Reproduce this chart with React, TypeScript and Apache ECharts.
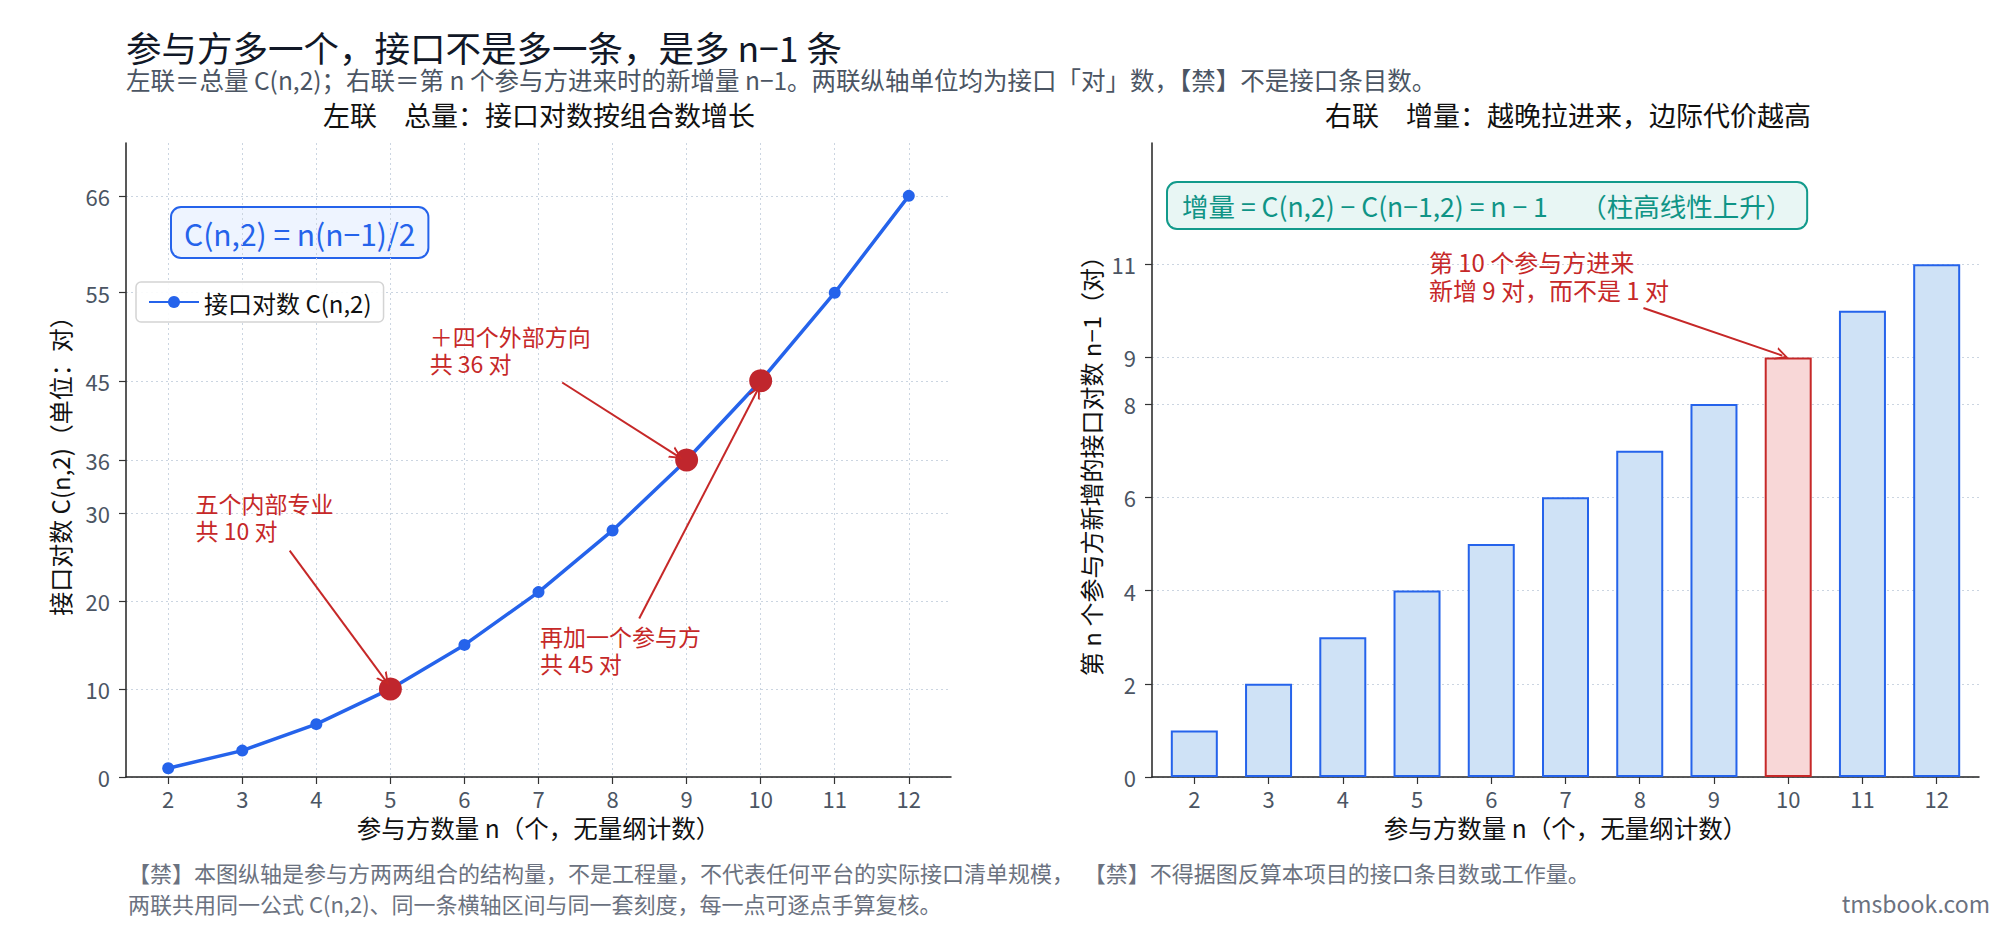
import { useEffect, useRef } from "react";
import * as echarts from "echarts";

// 参与方数量 n 与两联的数值
const participants = [2, 3, 4, 5, 6, 7, 8, 9, 10, 11, 12];
const pairCounts = [1, 3, 6, 10, 15, 21, 28, 36, 45, 55, 66];
const newPairs = [1, 2, 3, 4, 5, 6, 7, 8, 9, 10, 11];
const leftTicks = [0, 10, 20, 30, 36, 45, 55, 66];
const rightTicks = [0, 2, 4, 6, 8, 9, 11];
const markedN = [5, 9, 10];
const markedBarN = 10;

const FONT = '"Noto Sans CJK SC", "Noto Sans", sans-serif';
const BLUE = "#2563eb";
const RED = "#c62828";
const TEAL = "#0f9486";
const GRID_LINE = { color: "#cbd5e1", type: [2, 3], width: 1 };
const ARROW = "path://M0,10 L5,0 L10,10 L8.4,10 L5,3.2 L1.6,10 Z";

const xAxisOf = (gridIndex: number, split: boolean) => ({
  type: "value",
  gridIndex,
  min: 1.43,
  max: 12.57,
  name: "参与方数量 n（个，无量纲计数）",
  nameLocation: "middle",
  nameGap: 38,
  nameTextStyle: { fontSize: 24.5, color: "#111", fontFamily: FONT },
  axisLine: { show: true, onZero: false, lineStyle: { color: "#222", width: 1.5 } },
  axisTick: { show: true, length: 7, customValues: participants, lineStyle: { color: "#333", width: 1.2 } },
  axisLabel: { customValues: participants, fontSize: 22, color: "#4b5563", margin: 10, fontFamily: FONT },
  splitLine: { show: split, lineStyle: GRID_LINE },
});

const yAxisOf = (gridIndex: number, max: number, ticks: number[], name: string, gap: number) => ({
  type: "value",
  gridIndex,
  min: 0,
  max,
  name,
  nameLocation: "middle",
  nameGap: gap,
  nameTextStyle: { fontSize: 24, color: "#111", fontFamily: FONT },
  axisLine: { show: true, onZero: false, lineStyle: { color: "#222", width: 1.5 } },
  axisTick: { show: true, length: 7, customValues: ticks, lineStyle: { color: "#333", width: 1.2 } },
  axisLabel: { customValues: ticks, fontSize: 22, color: "#4b5563", margin: 16, fontFamily: FONT },
  splitLine: { show: true, lineStyle: GRID_LINE },
});

const arrowLines = (pairs: number[][][]) => ({
  silent: true,
  symbol: ["none", ARROW],
  symbolSize: 13,
  label: { show: false },
  emphasis: { disabled: true },
  lineStyle: { color: RED, width: 2, type: "solid", opacity: 1 },
  data: pairs.map(([a, b]) => [{ coord: a }, { coord: b }]),
});

const notes = (items: { at: number[]; text: string }[], size: number, lh: number) => ({
  silent: true,
  symbol: "circle",
  symbolSize: 0,
  label: {
    show: true,
    position: [0, 0],
    align: "left",
    verticalAlign: "top",
    color: RED,
    fontSize: size,
    lineHeight: lh,
    fontFamily: FONT,
  },
  data: items.map((it) => ({ coord: it.at, value: 0, label: { formatter: it.text } })),
});

const text = (x: number, y: number, t: string, size: number, fill: string, align = "left") => ({
  type: "text",
  x,
  y,
  silent: true,
  style: { text: t, fontSize: size, fontFamily: FONT, fill, align, verticalAlign: "middle" },
});

const App = () => {
  const chartRef = useRef<HTMLDivElement>(null);

  useEffect(() => {
    const chart = echarts.init(chartRef.current, null, { renderer: "svg" });

    const option = {
      animation: false,
      textStyle: { fontFamily: FONT },
      grid: [
        { left: 126, top: 143, width: 825, height: 634, outerBoundsMode: "none" },
        { left: 1152, top: 143, width: 827, height: 634, outerBoundsMode: "none" },
      ],
      xAxis: [xAxisOf(0, true), xAxisOf(1, false)],
      yAxis: [
        yAxisOf(0, 72, leftTicks, "接口对数 C(n,2)（单位：对）", 55),
        yAxisOf(1, 13.6, rightTicks, "第 n 个参与方新增的接口对数 n−1（对）", 50),
      ],
      legend: {
        left: 136,
        top: 282,
        data: ["接口对数 C(n,2)"],
        padding: [8, 12],
        itemWidth: 50,
        itemHeight: 15,
        textStyle: { fontSize: 24, color: "#111", fontFamily: FONT },
        borderColor: "#d4d4d4",
        borderWidth: 1.5,
        borderRadius: 5,
        backgroundColor: "rgba(255,255,255,0.9)",
      },
      series: [
        {
          name: "接口对数 C(n,2)",
          type: "line",
          xAxisIndex: 0,
          yAxisIndex: 0,
          data: participants.map((n, i) => [n, pairCounts[i]]),
          symbol: "circle",
          symbolSize: 12,
          showAllSymbol: true,
          lineStyle: { color: BLUE, width: 3.5 },
          itemStyle: { color: BLUE },
          z: 3,
        },
        {
          name: "关键点",
          type: "scatter",
          xAxisIndex: 0,
          yAxisIndex: 0,
          data: participants
            .map((n, i) => [n, pairCounts[i]])
            .filter(([n]) => markedN.includes(n)),
          symbolSize: 23,
          itemStyle: { color: "#c0262d", opacity: 1 },
          z: 4,
          markLine: arrowLines([
            [[3.64, 25.7], [4.93, 11.0]],
            [[7.32, 44.8], [8.87, 36.5]],
            [[8.36, 18.0], [9.95, 43.8]],
          ]),
          markPoint: notes(
            [
              { at: [2.37, 32.6], text: "五个内部专业\n共 10 对" },
              { at: [5.53, 51.6], text: "＋四个外部方向\n共 36 对" },
              { at: [7.02, 17.6], text: "再加一个参与方\n共 45 对" },
            ],
            23,
            27
          ),
        },
        {
          name: "新增接口对数",
          type: "bar",
          xAxisIndex: 1,
          yAxisIndex: 1,
          barWidth: 47,
          data: participants.map((n, i) => ({
            value: [n, newPairs[i]],
            itemStyle:
              n === markedBarN ? { color: "#f8d7d7", borderColor: RED, borderWidth: 2 } : undefined,
          })),
          itemStyle: { color: "#cfe2f6", borderColor: BLUE, borderWidth: 2 },
          markLine: arrowLines([[[8.05, 10.06], [9.92, 9.04]]]),
          markPoint: notes(
            [{ at: [5.16, 11.35], text: "第 10 个参与方进来\n新增 9 对，而不是 1 对" }],
            24,
            28
          ),
        },
      ],
      graphic: [
        text(126, 46, "参与方多一个，接口不是多一条，是多 n−1 条", 35.5, "#111827"),
        text(
          126,
          79,
          "左联＝总量 C(n,2)；右联＝第 n 个参与方进来时的新增量 n−1。两联纵轴单位均为接口「对」数，【禁】不是接口条目数。",
          24.5,
          "#4b5563"
        ),
        text(539, 114, "左联　总量：接口对数按组合数增长", 27, "#111", "center"),
        text(1568, 114, "右联　增量：越晚拉进来，边际代价越高", 27, "#111", "center"),
        {
          type: "text",
          x: 172,
          y: 208,
          silent: true,
          style: {
            text: "C(n,2) = n(n−1)/2",
            fontSize: 30,
            lineHeight: 35,
            fontFamily: FONT,
            fill: BLUE,
            backgroundColor: "#eef4ff",
            borderColor: BLUE,
            borderWidth: 2,
            borderRadius: 9,
            padding: [7, 12],
          },
        },
        {
          type: "text",
          x: 1168,
          y: 183,
          silent: true,
          style: {
            text: "增量 = C(n,2) − C(n−1,2) = n − 1　 （柱高线性上升）",
            fontSize: 26.5,
            lineHeight: 31,
            fontFamily: FONT,
            fill: TEAL,
            backgroundColor: "#e8f6f4",
            borderColor: "#129a8b",
            borderWidth: 2,
            borderRadius: 9,
            padding: [7, 14],
          },
        },
        text(
          128,
          872,
          "【禁】本图纵轴是参与方两两组合的结构量，不是工程量，不代表任何平台的实际接口清单规模，  【禁】不得据图反算本项目的接口条目数或工作量。",
          22,
          "#6b7280"
        ),
        text(128, 903, "两联共用同一公式 C(n,2)、同一条横轴区间与同一套刻度，每一点可逐点手算复核。", 22, "#6b7280"),
        text(1990, 903, "tmsbook.com", 23, "#6b7280", "right"),
      ],
    };

    chart.setOption(option);
    return () => {
      chart.dispose();
    };
  }, []);

  return (
    <div
      ref={chartRef}
      style={{ position: "fixed", left: 0, top: 0, width: 2010, height: 930, background: "#fff" }}
    />
  );
};

export default App;
